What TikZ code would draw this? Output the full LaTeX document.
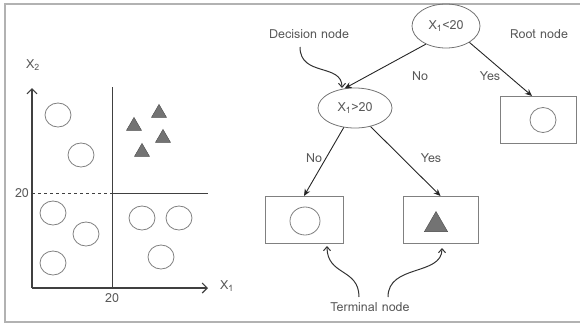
\documentclass[tikz,border=0pt]{standalone}
\usepackage{fontspec}
\setmainfont{Loma}
\usetikzlibrary{positioning,shapes.geometric,arrows.meta}
\definecolor{txtgray}{gray}{0.35}
\definecolor{framegray}{gray}{0.7}

\begin{document}
\begin{tikzpicture}[x=1pt, y=-1pt, >=Stealth,
  font=\fontsize{12.5}{14}\selectfont,
  lbl/.style={text=txtgray, inner sep=1pt},
  dot/.style={draw=black!50, line width=0.8pt, ellipse, minimum width=26pt, minimum height=24pt, inner sep=0pt},
  tri/.style={draw=black!70, fill=black!55, regular polygon, regular polygon sides=3, minimum size=17.3pt, inner sep=0pt},
  split/.style={draw=black!55, line width=0.8pt, ellipse, inner sep=0pt, text=txtgray},
  leaf/.style={draw=black!50, line width=1pt, rectangle, minimum width=76pt, minimum height=47pt, inner sep=0pt},
  axis/.style={draw=black!75, line width=1.1pt},
  edge/.style={draw=black!85, line width=0.9pt, -{Stealth[length=7pt,width=6pt]}},
  hint/.style={draw=black!80, line width=1pt, -{Straight Barb[length=4pt,width=7pt]}}]

\useasboundingbox (0,0) rectangle (580,324);
\draw[framegray, line width=1.4pt] (580,4) -- (5,4) -- (5,322) -- (580,322);

% scatter plot
\coordinate (origin) at (32,288);
\coordinate (ytop) at (32,88);
\coordinate (xend) at (208,288);
\draw[axis, -{Straight Barb[length=5pt,width=10pt]}] (origin) -- (ytop);
\draw[axis, -{Straight Barb[length=5pt,width=10pt]}] (origin) -- (xend);
\node[lbl] (x2) at (33,65) {X\textsubscript{2}};
\node[lbl] (x1) at (227,286) {X\textsubscript{1}};

\coordinate (vtop) at (112,87);
\coordinate (vbot) at (112,288);
\coordinate (hmid) at (112,193);
\coordinate (hend) at (208,193);
\draw[axis, line width=0.9pt] (vtop) -- (vbot);
\draw[black!75, line width=0.8pt, dashed] (32,193) -- (hmid);
\draw[axis, line width=0.9pt] (hmid) -- (hend);
\node[lbl] (tick-y) at (22,193) {20};
\node[lbl] (tick-x) at (112,298) {20};

\foreach \cx/\cy [count=\i] in {58/115, 81/155, 53/213, 86/234, 53/263, 142/218, 179/218, 161/257}
  \node[dot] (c-\i) at (\cx,\cy) {};

\foreach \tx/\ty [count=\i] in {159/113, 134/126, 163/138, 142/152}
  \node[tri] (t-\i) at (\tx,\ty) {};

% tree
\node[split, minimum width=68pt, minimum height=44pt] (root) at (446,26) {X\textsubscript{1}<20};
\node[split, minimum width=74pt, minimum height=40pt] (dec) at (355,108) {X\textsubscript{1}>20};
\node[leaf] (leafA) at (538.5,120) {};
\node[leaf, minimum width=78pt] (leafB) at (304,220) {};
\node[leaf, minimum width=75pt] (leafC) at (440.5,220) {};

\node[dot, minimum width=26pt, minimum height=25pt] (inA) at (543,120) {};
\node[dot, minimum width=30pt, minimum height=28pt] (inB) at (305,221) {};
\node[tri, minimum size=27pt] (inC) at (436,225) {};

\draw[edge] (root.222) -- (dec.118);
\draw[edge] (root.-35) -- (leafA.105);
\draw[edge] (dec.240) -- (leafB.north);
\draw[edge] (dec.-50) -- (leafC.north);

\node[lbl] (no-1) at (420,76) {No};
\node[lbl] (yes-1) at (490,76) {Yes};
\node[lbl] (no-2) at (314,158) {No};
\node[lbl] (yes-2) at (431,158) {Yes};

\node[lbl] (dlab) at (309,34) {Decision node};
\node[lbl] (rlab) at (539,34) {Root node};
\node[lbl] (tlab) at (370,307) {Terminal node};

\draw[hint] (300,47) .. controls (300,77) and (342,63) .. (342,88);
\draw[hint] (359,297) .. controls (359,268) and (327,276) .. (327,246);
\draw[hint] (388,297) .. controls (388,264) and (442,276) .. (442,248);
\end{tikzpicture}
\end{document}
